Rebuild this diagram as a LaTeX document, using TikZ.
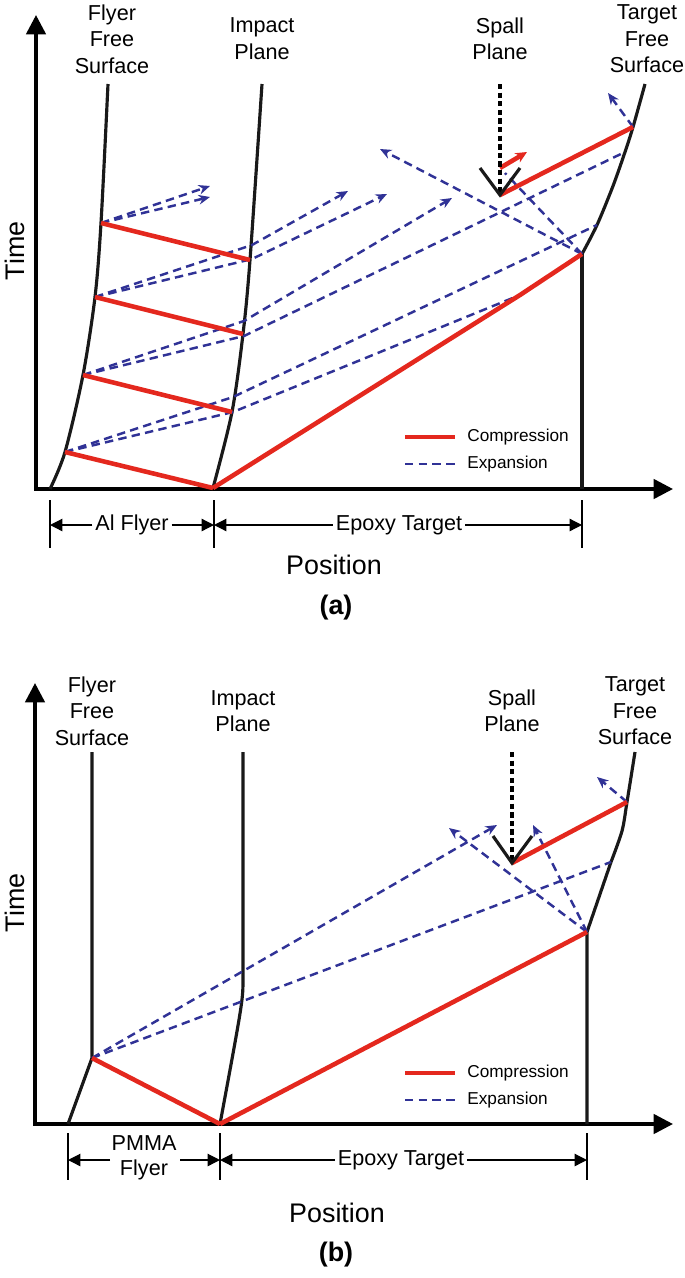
\documentclass[tikz,border=0pt]{standalone}
\usepackage{fontspec}
\setmainfont{Liberation Sans}
\usetikzlibrary{arrows.meta}
\definecolor{shockred}{RGB}{228,40,30}
\definecolor{fanblue}{RGB}{48,50,150}

\begin{document}
\begin{tikzpicture}[
  x=0.02cm, y=-0.02cm,
  >=Stealth,
  axis/.style={line width=2pt, {Triangle[length=11pt,width=11pt]}-{Triangle[length=11pt,width=11pt]}},
  surf/.style={line width=1.8pt, black!90},
  comp/.style={line width=2.6pt, shockred},
  expn/.style={line width=1.4pt, fanblue, dash pattern=on 4.8pt off 3pt},
  expnarr/.style={expn, -{Stealth[length=6.5pt,width=5.5pt]}},
  spall/.style={line width=2pt, dash pattern=on 3pt off 1.9pt},
  dim/.style={line width=0.7pt, -{Triangle[length=7pt,width=7pt]}},
  tick/.style={line width=0.7pt},
  lbl/.style={font=\fontsize{12.3}{15}\selectfont, align=center, inner sep=0pt},
  axlbl/.style={font=\fontsize{15.3}{18}\selectfont, inner sep=0pt},
  leg/.style={font=\fontsize{9.8}{12}\selectfont, anchor=west, inner sep=0pt},
  dimlbl/.style={font=\fontsize{12.3}{14}\selectfont, align=center, inner sep=1.5pt}
]
  \useasboundingbox (0,0) rectangle (685,1278);

  % ---------------- (a) Al flyer ----------------
  \coordinate (aO) at (36,489);
  \coordinate (aTop) at (36,15);
  \coordinate (aRight) at (673,489);
  \draw[axis] (aTop) -- (aO) -- (aRight);

  \coordinate (ffa1) at (108,84);
  \coordinate (ffa2) at (101,223);
  \coordinate (ffa3) at (95,297);
  \coordinate (ffa4) at (83,375);
  \coordinate (ffa5) at (65,452);
  \coordinate (ffa6) at (50,489);
  \coordinate (ipa1) at (262,84);
  \coordinate (ipa2) at (250,260);
  \coordinate (ipa3) at (243,334);
  \coordinate (ipa4) at (232,412);
  \coordinate (ipa5) at (213,488);
  \coordinate (tga0) at (582,489);
  \coordinate (tga1) at (582,254);
  \coordinate (tga2) at (597,225);
  \coordinate (tga3) at (613,186);
  \coordinate (tga4) at (625,152);
  \coordinate (tga5) at (633,127);
  \coordinate (tga6) at (645,84);
  \coordinate (spa) at (500,195);

  \draw[surf] plot[smooth] coordinates {(ffa1) (ffa2) (ffa3) (ffa4) (ffa5) (ffa6)};
  \draw[surf] plot[smooth] coordinates {(ipa1) (ipa2) (ipa3) (ipa4) (ipa5)};
  \draw[surf] (tga0) -- (tga1);
  \draw[surf] plot[smooth] coordinates {(tga1) (tga2) (tga3) (tga4) (tga5) (tga6)};

  % expansion fans
  \draw[expnarr] (ffa2) -- (210,186);
  \draw[expnarr] (ffa2) -- (210,197);
  \draw[expnarr] (ffa3) -- (252,245) -- (348,191);
  \draw[expnarr] (ffa3) -- (252,259) -- (387,194);
  \draw[expnarr] (ffa4) -- (244,321) -- (452,198);
  \draw[expn] (ffa4) -- (244,336) -- (tga4);
  \draw[expn] (ffa5) -- (233,397) -- (tga2);
  \draw[expn] (ffa5) -- (233,412) -- (520,295);
  \draw[expnarr] (tga1) -- (380,149);
  \draw[expn] (tga1) -- (505,173);
  \draw[expnarr] (tga5) -- (608,93);

  % compression
  \draw[comp] (ffa2) -- (ipa2);
  \draw[comp] (ffa3) -- (ipa3);
  \draw[comp] (ffa4) -- (ipa4);
  \draw[comp] (ffa5) -- (ipa5);
  \draw[comp, line join=round] (ipa5) -- (520,295) -- (tga1);
  \draw[comp] (spa) -- (tga5);
  \draw[comp, -{Stealth[length=6.5pt,width=6pt]}] (500,168) -- (527,152);

  % spall plane
  \draw[spall] (500,84) -- (spa);
  \draw[surf] (480,168) -- (spa) -- (520,168);

  \node[lbl] (flyfreeA) at (112,39) {Flyer\\Free\\Surface};
  \node[lbl] (impactA) at (262,38.5) {Impact\\Plane};
  \node[lbl] (spallA) at (500,38.5) {Spall\\Plane};
  \node[lbl] (tgtfreeA) at (647,39) {Target\\Free\\Surface};
  \node[axlbl, rotate=90] (timeA) at (15,251) {Time};

  % legend
  \draw[comp] (405,437) -- (455,437);
  \node[leg] (compA) at (467,437) {Compression};
  \draw[expn] (405,464) -- (455,464);
  \node[leg] (expnA) at (467,464) {Expansion};

  % thicknesses
  \draw[tick] (50,500) -- (50,548);
  \draw[tick] (214,500) -- (214,548);
  \draw[tick] (582,500) -- (582,548);
  \node[dimlbl] (alfly) at (132,525) {Al Flyer};
  \node[dimlbl] (eptA) at (399,525) {Epoxy Target};
  \draw[dim] (alfly.west) -- (50,525);
  \draw[dim] (alfly.east) -- (214,525);
  \draw[dim] (eptA.west) -- (214,525);
  \draw[dim] (eptA.east) -- (582,525);

  \node[axlbl] (posA) at (334,565) {Position};
  \node[axlbl, font=\fontsize{15.3}{18}\selectfont\bfseries] (capA) at (336,608) {(a)};

  % ---------------- (b) PMMA flyer ----------------
  \coordinate (bO) at (35,1124);
  \coordinate (bTop) at (35,683);
  \coordinate (bRight) at (673,1124);
  \draw[axis] (bTop) -- (bO) -- (bRight);

  \coordinate (ffb1) at (92,752);
  \coordinate (ffb2) at (92,1058);
  \coordinate (ffb3) at (68,1124);
  \coordinate (ipb1) at (243,752);
  \coordinate (ipb2) at (243,978);
  \coordinate (ipb3) at (220,1124);
  \coordinate (tgb0) at (587,1124);
  \coordinate (tgb1) at (587,932);
  \coordinate (tgb2) at (611,862);
  \coordinate (tgb3) at (622,831);
  \coordinate (tgb4) at (627,802);
  \coordinate (tgb5) at (635,752);
  \coordinate (spb) at (512,863);

  \draw[surf, line join=round] (ffb1) -- (ffb2) -- (ffb3);
  \draw[surf] (ipb1) -- (ipb2) .. controls (243,1000) .. (ipb3);
  \draw[surf, line join=round] (tgb0) -- (tgb1) -- (tgb2);
  \draw[surf] plot[smooth] coordinates {(tgb2) (tgb3) (tgb4) (tgb5)};

  % expansion fans
  \draw[expnarr] (ffb2) -- (497,825);
  \draw[expn] (ffb2) -- (tgb2);
  \draw[expnarr] (tgb1) -- (449,828);
  \draw[expnarr] (tgb1) -- (533,825);
  \draw[expnarr] (tgb4) -- (597,777);

  % compression
  \draw[comp] (ffb2) -- (ipb3);
  \draw[comp] (ipb3) -- (tgb1);
  \draw[comp] (spb) -- (tgb4);

  % spall plane
  \draw[spall] (512,752) -- (spb);
  \draw[surf] (493,836) -- (spb) -- (532,836);

  \node[lbl] (flyfreeB) at (92,711) {Flyer\\Free\\Surface};
  \node[lbl] (impactB) at (243,711) {Impact\\Plane};
  \node[lbl] (spallB) at (512,710.5) {Spall\\Plane};
  \node[lbl] (tgtfreeB) at (635,711) {Target\\Free\\Surface};
  \node[axlbl, rotate=90] (timeB) at (15,903) {Time};

  % legend
  \draw[comp] (405,1073) -- (455,1073);
  \node[leg] (compB) at (467,1073) {Compression};
  \draw[expn] (405,1100) -- (455,1100);
  \node[leg] (expnB) at (467,1100) {Expansion};

  % thicknesses
  \draw[tick] (68,1133) -- (68,1180);
  \draw[tick] (220,1133) -- (220,1180);
  \draw[tick] (587,1133) -- (587,1180);
  \node[dimlbl] (pmma) at (144,1158) {PMMA\\Flyer};
  \node[dimlbl] (eptB) at (401,1160) {Epoxy Target};
  \draw[dim] (110,1160) -- (68,1160);
  \draw[dim] (180,1160) -- (220,1160);
  \draw[dim] (eptB.west) -- (220,1160);
  \draw[dim] (eptB.east) -- (587,1160);

  \node[axlbl] (posB) at (337,1213) {Position};
  \node[axlbl, font=\fontsize{15.3}{18}\selectfont\bfseries] (capB) at (336,1255) {(b)};
\end{tikzpicture}
\end{document}
